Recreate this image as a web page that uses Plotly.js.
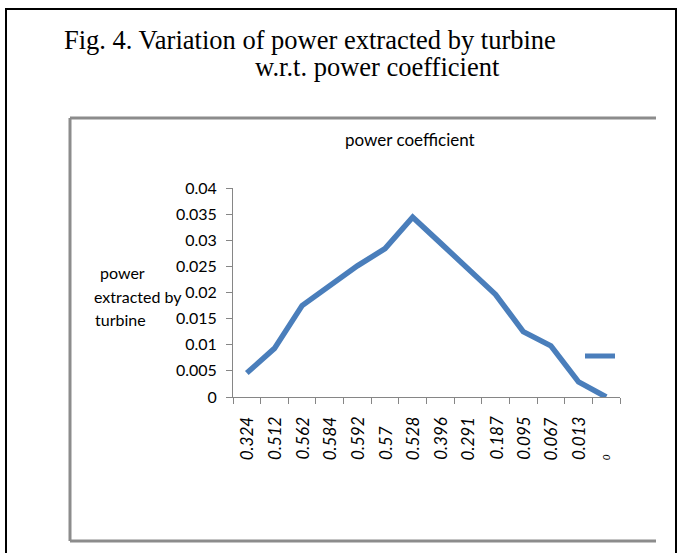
<!DOCTYPE html>
<html>
<head>
<meta charset="utf-8">
<script src="https://cdn.plot.ly/plotly-3.0.1.min.js"></script>
<style>html,body{margin:0;padding:0;background:#fff;}#chart{width:687px;height:553px;}</style>
</head>
<body>
<div id="chart"></div>
<script>
// ---- data ----
var categories = ["0.324","0.512","0.562","0.584","0.592","0.57","0.528","0.396","0.291","0.187","0.095","0.067","0.013","0"];
var powerExtracted = [0.0046,0.0093,0.0175,0.0214,0.0251,0.0284,0.0344,0.0295,0.0246,0.0196,0.0125,0.0098,0.0029,0.0];
var yTickValues = [0,0.005,0.01,0.015,0.02,0.025,0.03,0.035,0.04];
var yTickLabels = ["0","0.005","0.01","0.015","0.02","0.025","0.03","0.035","0.04"];
var titleLine1 = "Fig. 4. Variation of power extracted by turbine";
var titleLine2 = "w.r.t. power coefficient";
var chartTitle = "power coefficient";
var yTitleLines = ["power","extracted by","turbine"];

// ---- layout geometry (pixels) ----
var W = 687, H = 553;
var L = 233, R = 620, T = 188, B = 397;
function X(px){ return (px - L) / (R - L); }
function Y(py){ return (B - py) / (B - T); }

var gray = "#8c8c8c";
var axisGray = "#868686";
var font = "Lato, 'Open Sans', sans-serif";
var serif = "'Liberation Serif', 'Times New Roman', serif";

var shapes = [
  // outer black frame
  {type:"line", xref:"paper", yref:"paper", x0:X(6), x1:X(6), y0:Y(9), y1:Y(560), line:{color:"#000", width:2}},
  {type:"line", xref:"paper", yref:"paper", x0:X(5), x1:X(677), y0:Y(9), y1:Y(9), line:{color:"#000", width:2}},
  {type:"line", xref:"paper", yref:"paper", x0:X(676), x1:X(676), y0:Y(9), y1:Y(560), line:{color:"#000", width:2}},
  // inner gray chart frame
  {type:"line", xref:"paper", yref:"paper", x0:X(70), x1:X(656), y0:Y(118), y1:Y(118), line:{color:gray, width:3}},
  {type:"line", xref:"paper", yref:"paper", x0:X(70), x1:X(70), y0:Y(118), y1:Y(541), line:{color:gray, width:3}},
  {type:"line", xref:"paper", yref:"paper", x0:X(70), x1:X(656), y0:Y(541), y1:Y(541), line:{color:gray, width:3}}
];

var annotations = [
  {xref:"paper", yref:"paper", x:X(62), y:Y(56.5), xanchor:"left", yanchor:"bottom", showarrow:false,
   text:titleLine1, font:{family:serif, size:26.5, color:"#000"}},
  {xref:"paper", yref:"paper", x:X(253), y:Y(84.5), xanchor:"left", yanchor:"bottom", showarrow:false,
   text:titleLine2, font:{family:serif, size:26.5, color:"#000"}},
  {xref:"paper", yref:"paper", x:X(410), y:Y(139), xanchor:"center", yanchor:"middle", showarrow:false,
   text:chartTitle, font:{family:font, size:17, color:"#000"}}
];
var yTitleLeft = [98, 92, 93];
var yTitleMid = [272, 296, 319];
yTitleLines.forEach(function(t, i){
  annotations.push({xref:"paper", yref:"paper", x:X(yTitleLeft[i]), y:Y(yTitleMid[i]), xanchor:"left", yanchor:"middle",
    showarrow:false, text:t, font:{family:font, size:16, color:"#000"}});
});
categories.forEach(function(c, i){
  annotations.push({xref:"x", yref:"paper", x:i, y:Y(462), xanchor:"center", yanchor:"bottom", textangle:-90,
    showarrow:false, text:"<i>"+c+"</i>", font:{family:font, size:(c==="0"?10:17), color:"#000"}});
});

var trace = {
  type:"scatter", mode:"lines", x:categories, y:powerExtracted, name:"",
  line:{color:"#4A7EBB", width:5.5, shape:"linear"}, showlegend:true, hoverinfo:"skip"
};

var layout = {
  width:W, height:H,
  margin:{l:L, r:W-R, t:T, b:H-B, pad:0, autoexpand:false},
  paper_bgcolor:"#fff", plot_bgcolor:"#fff",
  showlegend:true,
  legend:{x:X(580), y:Y(356), xanchor:"left", yanchor:"middle", bgcolor:"rgba(0,0,0,0)", borderwidth:0,
    itemsizing:"constant", font:{family:font, size:12}},
  xaxis:{type:"category", range:[-0.5, categories.length-0.5], showgrid:false, zeroline:false,
    showline:true, linecolor:axisGray, linewidth:1, ticks:"outside", ticklen:6, tickcolor:axisGray,
    tickson:"boundaries", showticklabels:false, fixedrange:true},
  yaxis:{range:[0,0.04], tickmode:"array", tickvals:yTickValues, ticktext:yTickLabels,
    showgrid:false, zeroline:false, showline:true, linecolor:axisGray, linewidth:1,
    ticks:"outside", ticklen:6, tickcolor:axisGray, ticklabelstandoff:6,
    tickfont:{family:font, size:16, color:"#000"}, fixedrange:true},
  shapes:shapes,
  annotations:annotations
};

Plotly.newPlot("chart", [trace], layout, {staticPlot:true, displayModeBar:false});
</script>
</body>
</html>
